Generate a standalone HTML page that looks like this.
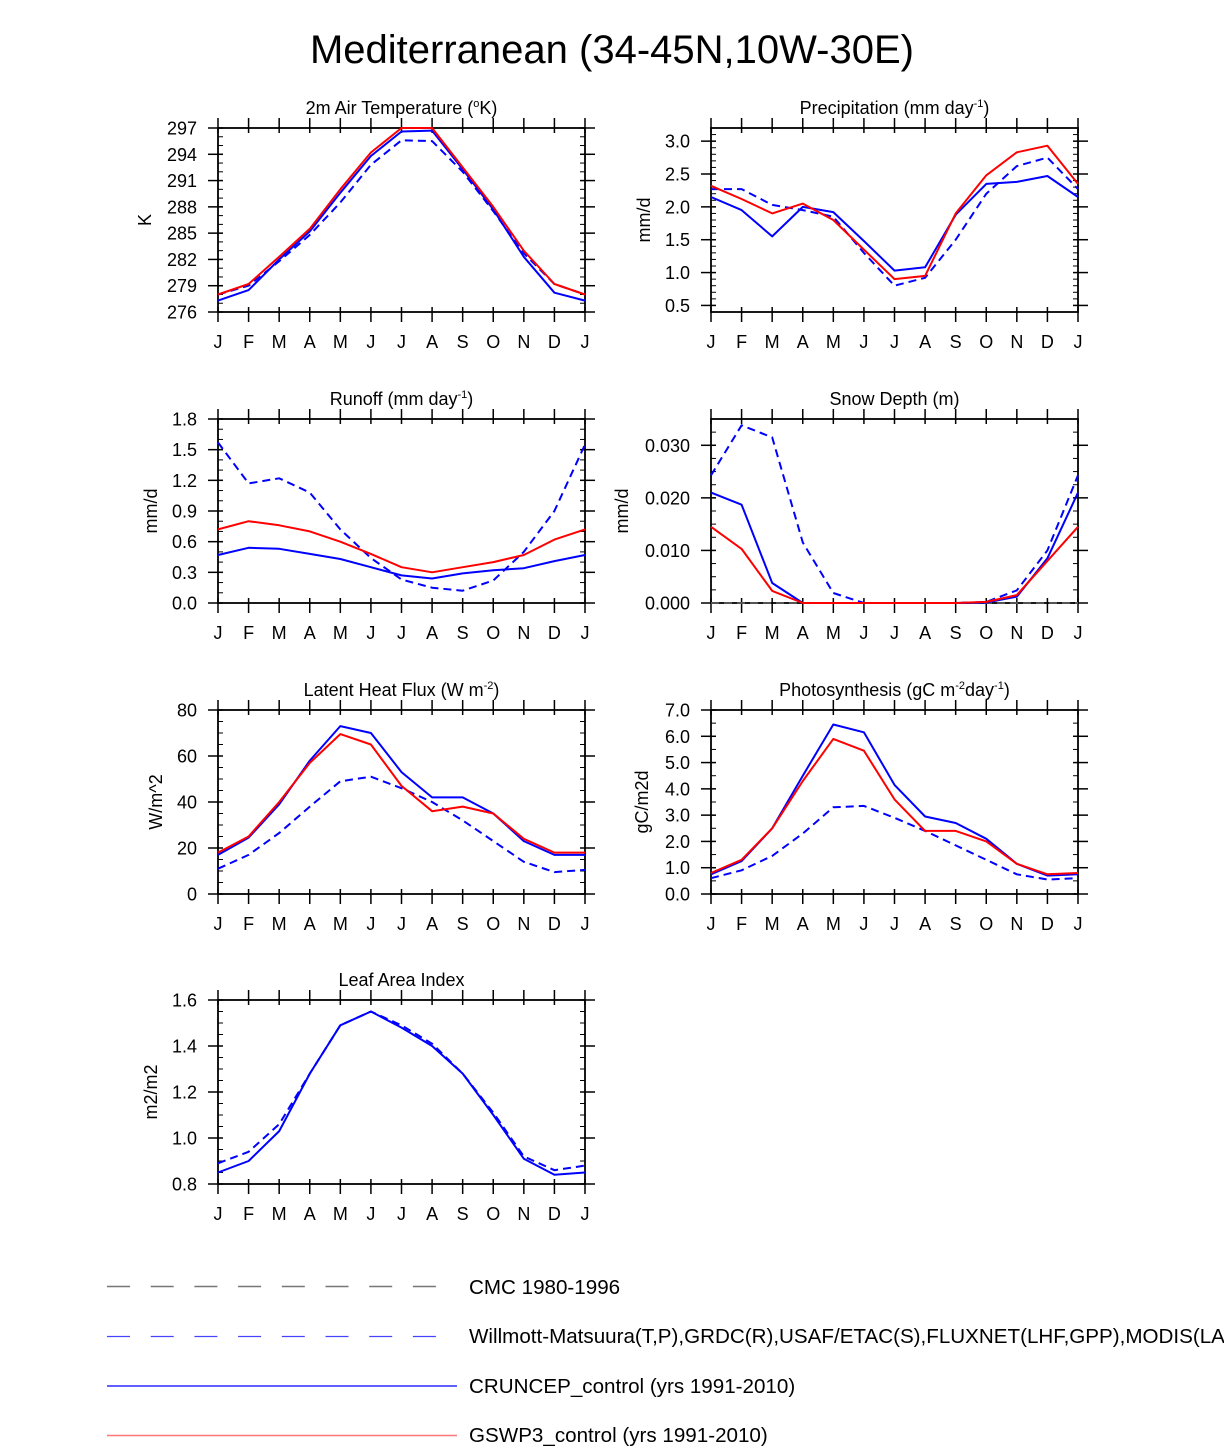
<!DOCTYPE html>
<html><head><meta charset="utf-8"><style>
html,body{margin:0;padding:0;background:#fff;}
svg text{font-family:"Liberation Sans",sans-serif;fill:#000;}
</style></head><body>
<svg id="fig" width="1224" height="1447" viewBox="0 0 1224 1447" xmlns="http://www.w3.org/2000/svg">
<text x="612" y="63" font-size="40" text-anchor="middle">Mediterranean (34-45N,10W-30E)</text>
<g>
<line x1="107" y1="1286.5" x2="440" y2="1286.5" stroke="#777" stroke-width="1.5" stroke-dasharray="23,20.7"/>
<text x="469" y="1294" font-size="20.6">CMC 1980-1996</text>
<line x1="107" y1="1336.5" x2="440" y2="1336.5" stroke="#44f" stroke-width="1.2" stroke-dasharray="23,20.7"/>
<text x="469" y="1343" font-size="20.6">Willmott-Matsuura(T,P),GRDC(R),USAF/ETAC(S),FLUXNET(LHF,GPP),MODIS(LAI)</text>
<line x1="107" y1="1386" x2="457" y2="1386" stroke="#00f" stroke-width="1.3"/>
<text x="469" y="1393" font-size="20.6">CRUNCEP_control (yrs 1991-2010)</text>
<line x1="107" y1="1435.5" x2="457" y2="1435.5" stroke="#f77" stroke-width="1.5"/>
<text x="469" y="1442" font-size="20.6">GSWP3_control (yrs 1991-2010)</text>
</g>
</svg>
<script>
const months=["J","F","M","A","M","J","J","A","S","O","N","D","J"];
const tempRed=[278,279.2,282.3,285.5,290,294.2,297,297,292.5,288,283,279.2,278];
const tempBlue=[277.3,278.5,282,285.2,289.6,293.8,296.6,296.7,292.3,287.7,282.3,278.2,277.3];
const tempObs=[278,279,281.8,284.8,288.5,292.8,295.6,295.5,292,287.5,282.7,279.2,278];
const precRed=[2.32,2.12,1.9,2.05,1.8,1.35,0.9,0.95,1.9,2.48,2.83,2.93,2.35];
const precBlue=[2.15,1.95,1.55,2.0,1.92,1.48,1.03,1.08,1.88,2.35,2.38,2.47,2.15];
const precObs=[2.27,2.27,2.03,1.95,1.85,1.3,0.8,0.92,1.5,2.2,2.62,2.75,2.27];
const runRed=[0.72,0.8,0.76,0.7,0.6,0.48,0.35,0.3,0.35,0.4,0.47,0.62,0.72];
const runBlue=[0.47,0.54,0.53,0.48,0.43,0.35,0.27,0.24,0.29,0.32,0.34,0.41,0.47];
const runObs=[1.57,1.17,1.22,1.08,0.72,0.44,0.23,0.15,0.12,0.22,0.5,0.9,1.55];
const snowRed=[0.0145,0.0103,0.0023,0,0,0,0,0,0,0.0002,0.0015,0.008,0.0145];
const snowBlue=[0.021,0.0187,0.0038,0,0,0,0,0,0,0.0001,0.0012,0.0085,0.021];
const snowObs=[0.0243,0.0338,0.0315,0.0115,0.0019,0,0,0,0,0.0002,0.0024,0.0100,0.0243];
const snowCmc=[0,0,0,0,0,0,0,0,0,0,0,0,0];
const lhfRed=[18,25,40,57,69.5,65,47,36,38,35,24,18,18];
const lhfBlue=[17,24.5,39,58,73,70,53,42,42,35,23,17,17];
const lhfObs=[11,17,26.5,38,49,51,46,40,32,23,14,9.5,10.5];
const gppRed=[0.8,1.3,2.5,4.3,5.9,5.45,3.6,2.4,2.4,2.0,1.15,0.75,0.8];
const gppBlue=[0.75,1.25,2.5,4.5,6.45,6.15,4.15,2.95,2.7,2.1,1.15,0.7,0.75];
const gppObs=[0.6,0.9,1.45,2.3,3.3,3.35,2.9,2.4,1.85,1.3,0.75,0.55,0.6];
const laiBlue=[0.85,0.9,1.03,1.28,1.49,1.55,1.48,1.4,1.28,1.1,0.91,0.84,0.85];
const laiObs=[0.89,0.94,1.06,1.28,1.49,1.55,1.49,1.41,1.28,1.11,0.92,0.86,0.88];
const tempTicks=["276","279","282","285","288","291","294","297"];
const precTicks=["0.5","1.0","1.5","2.0","2.5","3.0"];
const runTicks=["0.0","0.3","0.6","0.9","1.2","1.5","1.8"];
const snowTicks=["0.000","0.010","0.020","0.030"];
const lhfTicks=["0","20","40","60","80"];
const gppTicks=["0.0","1.0","2.0","3.0","4.0","5.0","6.0","7.0"];
const laiTicks=["0.8","1.0","1.2","1.4","1.6"];

const NS="http://www.w3.org/2000/svg";
const svg=document.getElementById('fig');
function el(tag,attrs,parent){const e=document.createElementNS(NS,tag);for(const k in attrs)e.setAttribute(k,attrs[k]);parent.appendChild(e);return e;}

function panel(o){
  const g=el('g',{},svg);
  
  
  const x0=o.x,x1=o.x+367,y0=o.y,y1=o.y+184;
  const xs=i=>x0+i*(x1-x0)/12;
  const ys=v=>y1-(v-o.min)/(o.max-o.min)*(y1-y0);
  for(let v=o.min;v<=o.max+1e-9;v+=o.minor){
    const y=ys(v);
    el('line',{x1:x0,x2:x0+5,y1:y,y2:y,stroke:'#000','stroke-width':1},g);
    el('line',{x1:x1-5,x2:x1,y1:y,y2:y,stroke:'#000','stroke-width':1},g);
  }
  o.ticks.forEach(t=>{
    const y=ys(parseFloat(t));
    el('line',{x1:x0-10,x2:x0+5,y1:y,y2:y,stroke:'#000','stroke-width':1.5},g);
    el('line',{x1:x1-5,x2:x1+10,y1:y,y2:y,stroke:'#000','stroke-width':1.5},g);
    const tx=el('text',{x:x0-21,y:y+6.5,'font-size':18,'text-anchor':'end'},g);
    tx.textContent=t;
    
    
  });
  months.forEach((m,i)=>{
    const x=xs(i);
    el('line',{x1:x,x2:x,y1:y1-5,y2:y1+10,stroke:'#000','stroke-width':1.5},g);
    el('line',{x1:x,x2:x,y1:y0-10,y2:y0+5,stroke:'#000','stroke-width':1.5},g);
    const tx=el('text',{x:x,y:y1+36,'font-size':18,'text-anchor':'middle'},g);
    tx.textContent=m;
    
    
  });
  el('rect',{x:x0,y:y0,width:x1-x0,height:y1-y0,fill:'none',stroke:'#000','stroke-width':1.8},g);
  o.series.forEach(s=>{
    const pts=s.data.map((v,i)=>xs(i).toFixed(1)+','+ys(v).toFixed(1)).join(' ');
    const p=el('polyline',{points:pts,fill:'none',stroke:s.color,'stroke-width':2,'stroke-linejoin':'round'},g);
    if(s.dash)p.setAttribute('stroke-dasharray',s.dash);
    
    
  });
  const t=el('text',{x:(x0+x1)/2,y:y0-14,'font-size':18,'text-anchor':'middle'},g);
  t.innerHTML=o.title;
  
  
  const yt=el('text',{x:0,y:0,'font-size':18,'text-anchor':'middle',transform:`translate(${o.ytx},${(y0+y1)/2}) rotate(-90)`},g);
  yt.textContent=o.ytitle;
  
  
}
const D='8,5';
panel({name:'temperature-panel',x:218,y:128,min:276,max:297,minor:1,ticks:tempTicks,ytitle:'K',ytx:151,
 title:'2m Air Temperature (<tspan font-size="11" dy="-7">o</tspan><tspan dy="7">K)</tspan>',
 series:[{name:'temp-obs',data:tempObs,color:'#00f',dash:D},{name:'temp-cruncep',data:tempBlue,color:'#00f'},{name:'temp-gswp3',data:tempRed,color:'#f00'}]});
panel({name:'precipitation-panel',x:711,y:128,min:0.4,max:3.2,minor:0.1,ticks:precTicks,ytitle:'mm/d',ytx:650,
 title:'Precipitation (mm day<tspan font-size="11" dy="-7">-1</tspan><tspan dy="7">)</tspan>',
 series:[{name:'prec-obs',data:precObs,color:'#00f',dash:D},{name:'prec-cruncep',data:precBlue,color:'#00f'},{name:'prec-gswp3',data:precRed,color:'#f00'}]});
panel({name:'runoff-panel',x:218,y:419,min:0,max:1.8,minor:0.1,ticks:runTicks,ytitle:'mm/d',ytx:157,
 title:'Runoff (mm day<tspan font-size="11" dy="-7">-1</tspan><tspan dy="7">)</tspan>',
 series:[{name:'runoff-obs',data:runObs,color:'#00f',dash:D},{name:'runoff-cruncep',data:runBlue,color:'#00f'},{name:'runoff-gswp3',data:runRed,color:'#f00'}]});
panel({name:'snow-depth-panel',x:711,y:419,min:0,max:0.035,minor:0.0025,ticks:snowTicks,ytitle:'mm/d',ytx:628,
 title:'Snow Depth (m)',
 series:[{name:'snow-cmc',data:snowCmc,color:'#555',dash:D},{name:'snow-obs',data:snowObs,color:'#00f',dash:D},{name:'snow-cruncep',data:snowBlue,color:'#00f'},{name:'snow-gswp3',data:snowRed,color:'#f00'}]});
panel({name:'latent-heat-panel',x:218,y:710,min:0,max:80,minor:5,ticks:lhfTicks,ytitle:'W/m^2',ytx:162,
 title:'Latent Heat Flux (W m<tspan font-size="11" dy="-7">-2</tspan><tspan dy="7">)</tspan>',
 series:[{name:'lhf-obs',data:lhfObs,color:'#00f',dash:D},{name:'lhf-cruncep',data:lhfBlue,color:'#00f'},{name:'lhf-gswp3',data:lhfRed,color:'#f00'}]});
panel({name:'photosynthesis-panel',x:711,y:710,min:0,max:7,minor:0.5,ticks:gppTicks,ytitle:'gC/m2d',ytx:648,
 title:'Photosynthesis (gC m<tspan font-size="11" dy="-7">-2</tspan><tspan dy="7">day</tspan><tspan font-size="11" dy="-7">-1</tspan><tspan dy="7">)</tspan>',
 series:[{name:'gpp-obs',data:gppObs,color:'#00f',dash:D},{name:'gpp-cruncep',data:gppBlue,color:'#00f'},{name:'gpp-gswp3',data:gppRed,color:'#f00'}]});
panel({name:'lai-panel',x:218,y:1000,min:0.8,max:1.6,minor:0.05,ticks:laiTicks,ytitle:'m2/m2',ytx:157,
 title:'Leaf Area Index',
 series:[{name:'lai-obs',data:laiObs,color:'#00f',dash:D},{name:'lai-cruncep',data:laiBlue,color:'#00f'}]});
</script>
</body></html>
